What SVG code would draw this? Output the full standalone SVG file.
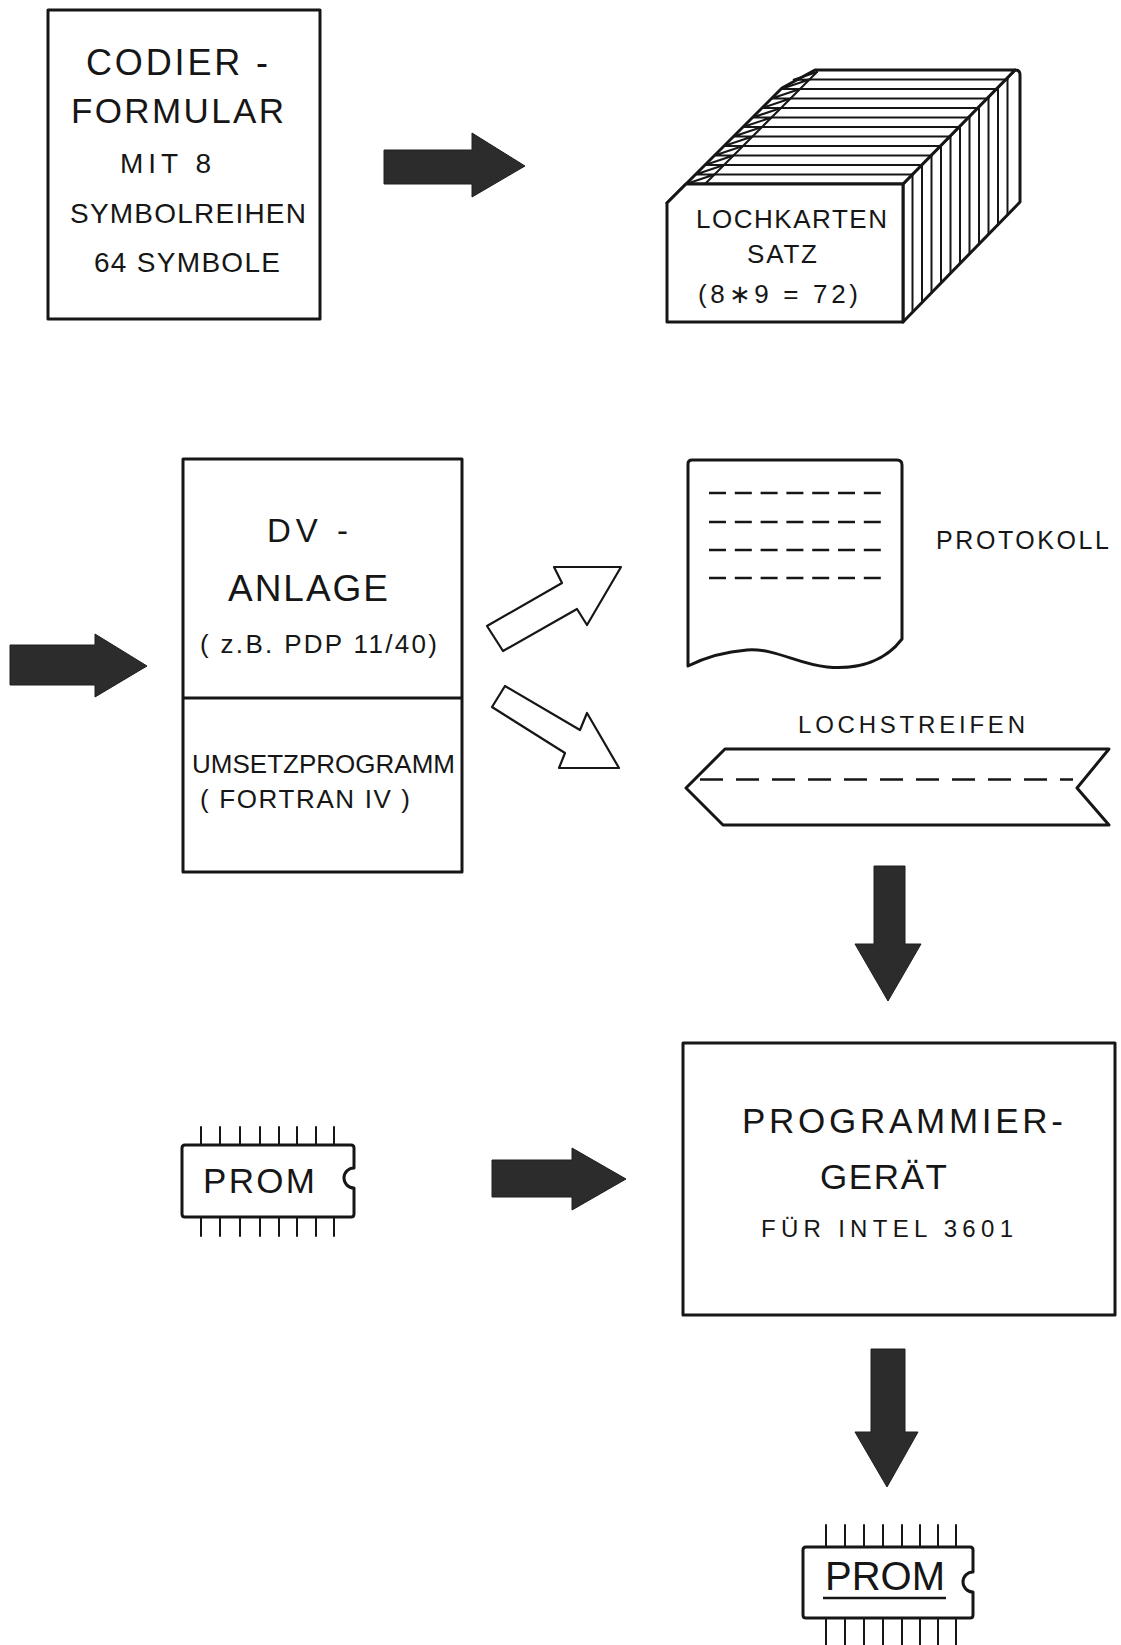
<svg xmlns="http://www.w3.org/2000/svg" width="1121" height="1645" viewBox="0 0 1121 1645">
  <style>
    .box { fill: #fff; stroke: #161616; stroke-width: 3; stroke-linejoin: round; }
    .thin { fill: none; stroke: #161616; stroke-width: 2; stroke-linecap: round; }
    .solid { fill: #2c2c2c; stroke: #1e1e1e; stroke-width: 1; stroke-linejoin: round; }
    .hollow { fill: #fff; stroke: #161616; stroke-width: 2.2; stroke-linejoin: round; }
    .dash { fill: none; stroke: #161616; stroke-width: 2.5; }
    text { font-family: "Liberation Sans", Arial, sans-serif; fill: #161616; lengthAdjust: spacing; }
  </style>

  <rect width="1121" height="1645" fill="#fff"/>

  <!-- coding form -->
  <g id="codierformular">
    <rect class="box" x="48" y="10" width="272" height="309"/>
    <text x="86" y="75" font-size="36" textLength="182" lengthAdjust="spacing">CODIER -</text>
    <text x="71" y="123" font-size="35" textLength="213" lengthAdjust="spacing">FORMULAR</text>
    <text x="120" y="173" font-size="28" textLength="91" lengthAdjust="spacing">MIT 8</text>
    <text x="70" y="223" font-size="28" textLength="236" lengthAdjust="spacing">SYMBOLREIHEN</text>
    <text x="94" y="272" font-size="28" textLength="186" lengthAdjust="spacing">64 SYMBOLE</text>
  </g>

  <!-- punched card deck -->
  <g id="lochkartensatz">
    <!-- side face -->
    <path class="box" d="M903,184 L1015,70 Q1020,70 1020,75 L1020,202 L903,322 Z"/>
    <!-- top face -->
    <path class="box" d="M667,203 L782,88 L815,70 L1015,70 L903,184 L686,184 Z"/>
    <!-- card edges on top face -->
    <g class="thin">
      <line x1="705" y1="184" x2="903" y2="184"/>
      <line x1="714.5" y1="174.5" x2="912.5" y2="174.5"/>
      <line x1="724" y1="165" x2="922" y2="165"/>
      <line x1="733.5" y1="155.5" x2="931.5" y2="155.5"/>
      <line x1="743" y1="146" x2="941" y2="146"/>
      <line x1="752.5" y1="136.5" x2="950.5" y2="136.5"/>
      <line x1="762" y1="127" x2="960" y2="127"/>
      <line x1="771.5" y1="117.5" x2="969.5" y2="117.5"/>
      <line x1="781" y1="108" x2="979" y2="108"/>
      <line x1="790.5" y1="98.5" x2="988.5" y2="98.5"/>
      <line x1="800" y1="89" x2="998" y2="89"/>
      <line x1="809.5" y1="79.5" x2="1007.5" y2="79.5"/>
    </g>
    <!-- card edges on side face -->
    <g class="thin">
      <line x1="912.5" y1="174.5" x2="912.5" y2="312.3"/>
      <line x1="922" y1="165" x2="922" y2="302.5"/>
      <line x1="931.5" y1="155.5" x2="931.5" y2="292.8"/>
      <line x1="941" y1="146" x2="941" y2="283"/>
      <line x1="950.5" y1="136.5" x2="950.5" y2="273.3"/>
      <line x1="960" y1="127" x2="960" y2="263.5"/>
      <line x1="969.5" y1="117.5" x2="969.5" y2="253.8"/>
      <line x1="979" y1="108" x2="979" y2="244"/>
      <line x1="988.5" y1="98.5" x2="988.5" y2="234.3"/>
      <line x1="998" y1="89" x2="998" y2="224.5"/>
      <line x1="1007.5" y1="79.5" x2="1007.5" y2="214.8"/>
    </g>
    <!-- staggered card corners along the left edge -->
    <line class="thin" x1="705" y1="184" x2="817" y2="72"/>
    <polyline class="thin" points="686,184 714.5,174.5 695.5,174.5 724,165 705,165 733.5,155.5 714.5,155.5 743,146 724,146 752.5,136.5 733.5,136.5 762,127 743,127 771.5,117.5 752.5,117.5 781,108 762,108 790.5,98.5 771.5,98.5 800,89 781,89 809.5,79.5 793,80 817,72"/>
    <!-- front face -->
    <path class="box" d="M667,322 L667,203 L686,184 L903,184 L903,322 Z"/>
    <text x="696" y="228" font-size="26" textLength="191" lengthAdjust="spacing">LOCHKARTEN</text>
    <text x="747" y="263" font-size="26" textLength="70" lengthAdjust="spacing">SATZ</text>
    <text x="698" y="303" font-size="26" textLength="160" lengthAdjust="spacing">(8∗9 = 72)</text>
  </g>

  <!-- computer -->
  <g id="dv-anlage">
    <rect class="box" x="183" y="459" width="279" height="413"/>
    <line class="box" x1="183" y1="698" x2="462" y2="698"/>
    <text x="267" y="542" font-size="33" textLength="81" lengthAdjust="spacing">DV -</text>
    <text x="228" y="601" font-size="37" textLength="160" lengthAdjust="spacing">ANLAGE</text>
    <text x="200" y="653" font-size="26" textLength="237" lengthAdjust="spacing">( z.B. PDP 11/40)</text>
    <text x="192" y="773" font-size="26" textLength="263" lengthAdjust="spacing">UMSETZPROGRAMM</text>
    <text x="200" y="808" font-size="26" textLength="210" lengthAdjust="spacing">( FORTRAN  IV )</text>
  </g>

  <!-- printout -->
  <g id="protokoll">
    <path class="box" d="M688,666 L688,464 Q688,460 692,460 L897,460 Q902,460 902,465 L902,639 C886,660 860,670 827,667 C797,664 775,648 747,650 C721,652 702,659 688,666 Z"/>
    <g class="dash" stroke-dasharray="17 8.8">
      <line x1="709" y1="493" x2="881" y2="493"/>
      <line x1="709" y1="522" x2="881" y2="522"/>
      <line x1="709" y1="550" x2="881" y2="550"/>
      <line x1="709" y1="578" x2="881" y2="578"/>
    </g>
    <text x="936" y="549" font-size="25" textLength="173" lengthAdjust="spacing">PROTOKOLL</text>
  </g>

  <!-- paper tape -->
  <g id="lochstreifen">
    <text x="798" y="733" font-size="24" textLength="227" lengthAdjust="spacing">LOCHSTREIFEN</text>
    <path class="box" stroke-width="3.5" d="M725,749 L1109,749 L1077,788 L1109,825 L723,825 L686,788 Z"/>
    <line class="dash" x1="700" y1="779.5" x2="1073" y2="779.5" stroke-dasharray="23 13"/>
  </g>

  <!-- PROM (blank) -->
  <g id="prom-leer">
    <g class="thin">
      <line x1="201" y1="1127" x2="201" y2="1145"/><line x1="220" y1="1127" x2="220" y2="1145"/>
      <line x1="240" y1="1127" x2="240" y2="1145"/><line x1="260" y1="1127" x2="260" y2="1145"/>
      <line x1="279" y1="1127" x2="279" y2="1145"/><line x1="297" y1="1127" x2="297" y2="1145"/>
      <line x1="316" y1="1127" x2="316" y2="1145"/><line x1="334" y1="1127" x2="334" y2="1145"/>
      <line x1="201" y1="1217" x2="201" y2="1236"/><line x1="220" y1="1217" x2="220" y2="1236"/>
      <line x1="240" y1="1217" x2="240" y2="1236"/><line x1="260" y1="1217" x2="260" y2="1236"/>
      <line x1="279" y1="1217" x2="279" y2="1236"/><line x1="297" y1="1217" x2="297" y2="1236"/>
      <line x1="316" y1="1217" x2="316" y2="1236"/><line x1="334" y1="1217" x2="334" y2="1236"/>
    </g>
    <path class="box" d="M185,1145 L351,1145 Q354,1145 354,1148 L354,1168 A10,10 0 0 0 354,1188 L354,1214 Q354,1217 351,1217 L185,1217 Q182,1217 182,1214 L182,1148 Q182,1145 185,1145 Z"/>
    <text x="203" y="1193" font-size="35" textLength="112" lengthAdjust="spacing">PROM</text>
  </g>

  <!-- programming unit -->
  <g id="programmiergeraet">
    <rect class="box" x="683" y="1043" width="432" height="272"/>
    <text x="742" y="1133" font-size="35" textLength="321" lengthAdjust="spacing">PROGRAMMIER-</text>
    <text x="820" y="1189" font-size="35" textLength="127" lengthAdjust="spacing">GERÄT</text>
    <text x="761" y="1237" font-size="24" textLength="252" lengthAdjust="spacing">FÜR INTEL 3601</text>
  </g>

  <!-- PROM (programmed) -->
  <g id="prom-programmiert">
    <g class="thin">
      <line x1="826" y1="1525" x2="826" y2="1547"/><line x1="845" y1="1525" x2="845" y2="1547"/>
      <line x1="864" y1="1525" x2="864" y2="1547"/><line x1="883" y1="1525" x2="883" y2="1547"/>
      <line x1="902" y1="1525" x2="902" y2="1547"/><line x1="920" y1="1525" x2="920" y2="1547"/>
      <line x1="938" y1="1525" x2="938" y2="1547"/><line x1="956" y1="1525" x2="956" y2="1547"/>
      <line x1="826" y1="1618" x2="826" y2="1645"/><line x1="845" y1="1618" x2="845" y2="1645"/>
      <line x1="864" y1="1618" x2="864" y2="1645"/><line x1="883" y1="1618" x2="883" y2="1645"/>
      <line x1="902" y1="1618" x2="902" y2="1645"/><line x1="920" y1="1618" x2="920" y2="1645"/>
      <line x1="938" y1="1618" x2="938" y2="1645"/><line x1="956" y1="1618" x2="956" y2="1645"/>
    </g>
    <path class="box" d="M806,1547 L970,1547 Q973,1547 973,1550 L973,1572 A10,10 0 0 0 973,1592 L973,1615 Q973,1618 970,1618 L806,1618 Q803,1618 803,1615 L803,1550 Q803,1547 806,1547 Z"/>
    <text x="825" y="1590" font-size="40" textLength="120" lengthAdjust="spacing">PROM</text>
    <line x1="823" y1="1598" x2="946" y2="1598" stroke="#161616" stroke-width="2.5"/>
  </g>

  <!-- flow arrows -->
  <g id="connectors">
    <path class="solid" d="M384,150 L472,150 L472,133 L525,166 L472,197 L472,184 L384,184 Z"/>
    <path class="solid" d="M10,645 L95,645 L95,634 L147,666 L95,697 L95,685 L10,685 Z"/>
    <polygon class="hollow" points="554,567 621,567 587,625 577,609 503,651 487,626 562,583"/>
    <polygon class="hollow" points="505,686 580,730 587,713 619,768 559,768 565,753 492,707"/>
    <path class="solid" d="M874,866 L905,866 L905,944 L921,944 L888,1001 L855,944 L874,944 Z"/>
    <path class="solid" d="M492,1160 L572,1160 L572,1148 L626,1179 L572,1210 L572,1197 L492,1197 Z"/>
    <path class="solid" d="M871,1349 L905,1349 L905,1432 L918,1432 L887,1487 L855,1432 L871,1432 Z"/>
  </g>
</svg>
